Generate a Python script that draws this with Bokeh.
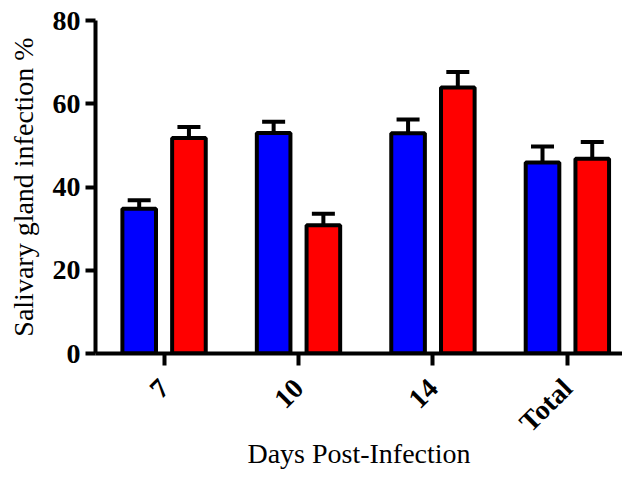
from bokeh.plotting import figure
from bokeh.models import Range1d, FixedTicker, Whisker, TeeHead, ColumnDataSource
from bokeh.embed import file_html
from bokeh.resources import INLINE
import math

# Data
categories = ["7", "10", "14", "Total"]
group_a = [34.8, 53.0, 52.9, 45.9]      # blue
group_a_err = [2.0, 2.7, 3.3, 3.8]
group_b = [51.8, 30.8, 63.9, 46.8]      # red
group_b_err = [2.6, 2.8, 3.7, 4.0]
y_ticks = [0, 20, 40, 60, 80]

xs = list(range(1, len(categories) + 1))
offset = 0.185
bar_w = 0.25

p = figure(width=622, height=477, output_backend="svg", toolbar_location=None,
           x_range=Range1d(0.49, 4.41), y_range=Range1d(0, 80),
           min_border_left=95, min_border_right=0, min_border_top=20,
           min_border_bottom=124)
p.outline_line_color = None
p.grid.visible = False
p.background_fill_color = "white"
p.border_fill_color = "white"

for vals, errs, sign, col in [(group_a, group_a_err, -1, "#0000FF"),
                              (group_b, group_b_err, 1, "#FF0000")]:
    src = ColumnDataSource(dict(
        x=[x + sign * offset for x in xs],
        top=vals,
        upper=[v + e for v, e in zip(vals, errs)],
    ))
    w = Whisker(base="x", lower="top", upper="upper", source=src,
                line_color="black", line_width=4,
                upper_head=TeeHead(size=23, line_width=4, line_color="black"),
                lower_head=None)
    p.add_layout(w)
    p.vbar(x="x", top="top", width=bar_w, bottom=0, source=src,
           fill_color=col, line_color="black", line_width=4)

font = "Liberation Serif"

p.xaxis.ticker = FixedTicker(ticks=xs)
p.xaxis.major_label_overrides = {x: c for x, c in zip(xs, categories)}
p.xaxis.major_label_orientation = math.pi / 4
p.yaxis.ticker = FixedTicker(ticks=y_ticks)

for ax in (p.xaxis[0], p.yaxis[0]):
    ax.axis_line_width = 4
    ax.axis_line_color = "black"
    ax.major_tick_line_width = 4
    ax.major_tick_line_color = "black"
    ax.major_tick_in = 0
    ax.minor_tick_line_color = None
    ax.major_label_text_font = font
    ax.major_label_text_font_style = "bold"
    ax.major_label_text_font_size = "28px"
    ax.major_label_text_color = "black"
    ax.axis_label_text_font = font
    ax.axis_label_text_font_style = "normal"
    ax.axis_label_text_font_size = "28px"
    ax.axis_label_text_color = "black"

p.yaxis.major_tick_out = 10
p.yaxis.major_label_standoff = 5
p.yaxis.axis_label = "Salivary gland infection %"
p.yaxis.axis_label_standoff = 11

p.xaxis.major_tick_out = 12
p.xaxis.major_label_standoff = 18
p.xaxis.axis_label = "Days Post-Infection"
p.xaxis.axis_label_standoff = -14

open("out.html", "w").write(file_html(p, INLINE))
